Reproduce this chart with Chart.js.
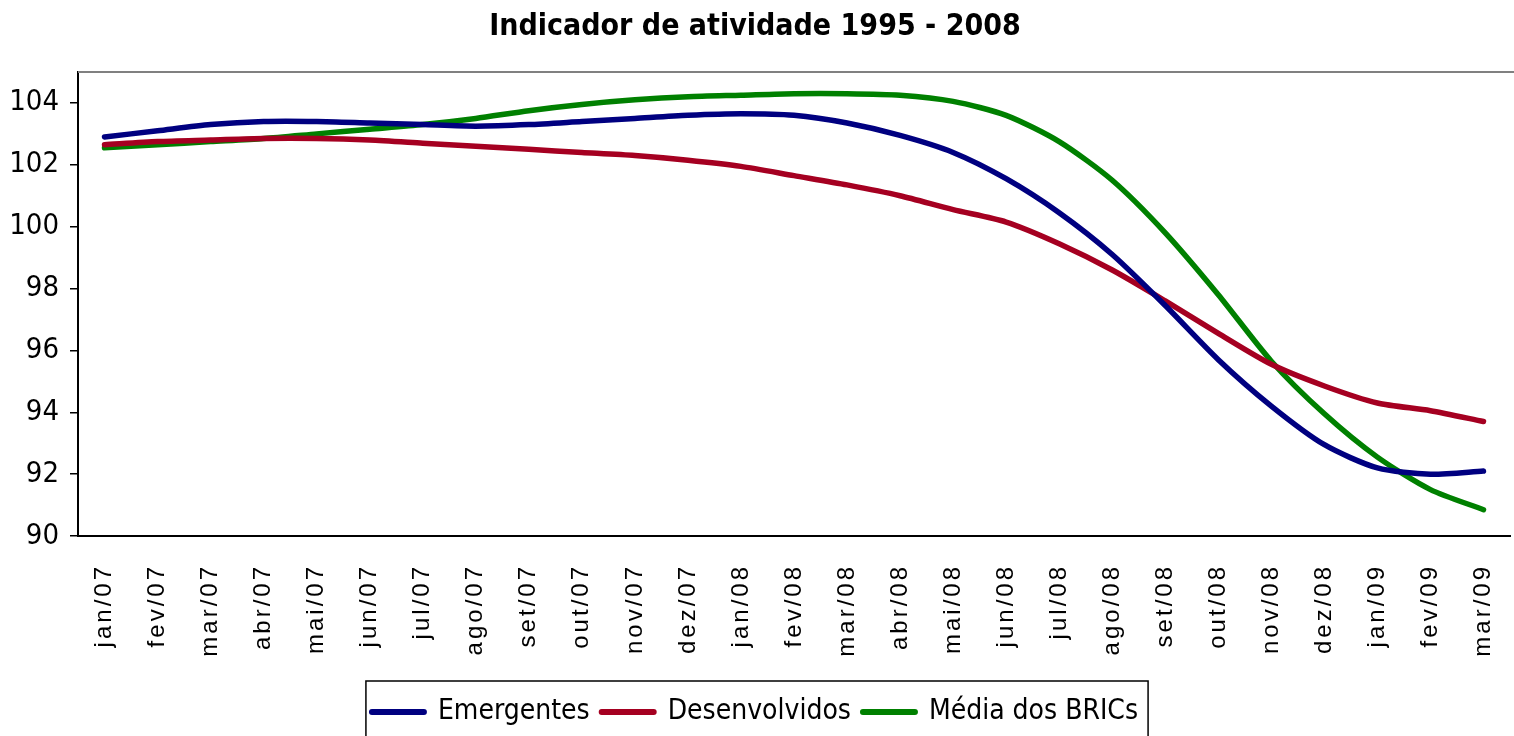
<!DOCTYPE html>
<html>
<head>
<meta charset="utf-8">
<script src="https://cdn.jsdelivr.net/npm/chart.js@4/dist/chart.umd.min.js"></script>
<style>
  html, body { margin: 0; padding: 0; background: #fff; }
  #wrap { width: 1514px; height: 736px; }
</style>
</head>
<body>
<div id="wrap"><canvas id="lineChart" width="1514" height="736"></canvas></div>
<script>
const months = [
  "jan/07", "fev/07", "mar/07", "abr/07", "mai/07", "jun/07", "jul/07", "ago/07", "set/07",
  "out/07", "nov/07", "dez/07", "jan/08", "fev/08", "mar/08", "abr/08", "mai/08", "jun/08",
  "jul/08", "ago/08", "set/08", "out/08", "nov/08", "dez/08", "jan/09", "fev/09", "mar/09"
];

const emergentes = [
  102.9, 103.1, 103.3, 103.4, 103.4, 103.35, 103.3, 103.25, 103.3,
  103.4, 103.5, 103.6, 103.65, 103.6, 103.35, 102.95, 102.4, 101.55,
  100.45, 99.1, 97.45, 95.7, 94.2, 92.95, 92.2, 92.0, 92.1
];

const desenvolvidos = [
  102.65, 102.75, 102.8, 102.85, 102.85, 102.8, 102.7, 102.6, 102.5,
  102.4, 102.3, 102.15, 101.95, 101.65, 101.35, 101.0, 100.55, 100.15,
  99.45, 98.6, 97.6, 96.55, 95.55, 94.85, 94.3, 94.05, 93.7
];

const bricsMedia = [
  102.55, 102.65, 102.75, 102.85, 103.0, 103.15, 103.3, 103.5, 103.75,
  103.95, 104.1, 104.2, 104.25, 104.3, 104.3, 104.25, 104.05, 103.6,
  102.75, 101.5, 99.8, 97.8, 95.65, 93.95, 92.55, 91.5, 90.85
];

const yMin = 90;
const yMax = 105;
const yStep = 2;

const narrow = "'Liberation Sans Narrow', 'Arial Narrow', 'DejaVu Sans Condensed', sans-serif";
const plain = "'Liberation Sans', Arial, sans-serif";

// x labels are letter spaced, legend gets a box round it, plot gets its frame
const framePlugin = {
  id: "frame",
  afterDatasetsDraw(chart) {
    chart.ctx.letterSpacing = "3px";
  },
  afterDraw(chart) {
    const ctx = chart.ctx;
    ctx.letterSpacing = "0px";
    const a = chart.chartArea;
    ctx.save();
    ctx.strokeStyle = "#808080";
    ctx.lineWidth = 2;
    ctx.beginPath();
    ctx.moveTo(a.left, a.top);
    ctx.lineTo(chart.width, a.top);
    ctx.stroke();

    const boxes = chart.legend.legendHitBoxes;
    if (boxes && boxes.length) {
      const first = boxes[0];
      const last = boxes[boxes.length - 1];
      ctx.strokeStyle = "#000";
      ctx.lineWidth = 1.5;
      ctx.strokeRect(first.left - 6, chart.legend.top - 5, last.left + last.width - first.left + 16, 80);
    }
    ctx.restore();
  }
};

const ctx = document.getElementById("lineChart").getContext("2d");
new Chart(ctx, {
  type: "line",
  data: {
    labels: months,
    datasets: [
      { label: "Emergentes", data: emergentes, borderColor: "#000080", backgroundColor: "#000080" },
      { label: "Desenvolvidos", data: desenvolvidos, borderColor: "#A50021", backgroundColor: "#A50021" },
      { label: "Média dos BRICs", data: bricsMedia, borderColor: "#008000", backgroundColor: "#008000" }
    ]
  },
  options: {
    responsive: false,
    animation: false,
    devicePixelRatio: 1,
    layout: { padding: { left: 0, right: 4, top: 0, bottom: 0 } },
    elements: {
      line: { borderWidth: 5.5, tension: 0.25, borderCapStyle: "round", fill: false },
      point: { radius: 0 }
    },
    scales: {
      x: {
        offset: true,
        grid: { display: false, drawTicks: false },
        border: { display: true, color: "#000", width: 2 },
        ticks: {
          z: 1,
          autoSkip: false,
          minRotation: 90,
          maxRotation: 90,
          padding: 28,
          color: "#000",
          font: { family: plain, size: 24 }
        },
        afterFit: scale => {
          scale.height = 150;
          scale.paddingLeft = 0;
          scale.paddingRight = 0;
        }
      },
      y: {
        min: yMin,
        max: yMax,
        grid: { drawOnChartArea: false, drawTicks: true, tickLength: 8, color: "#000", lineWidth: 1.5 },
        border: { display: true, color: "#000", width: 2 },
        ticks: {
          stepSize: yStep,
          includeBounds: false,
          padding: 11,
          color: "#000",
          font: { family: narrow, size: 29 }
        },
        afterFit: scale => { scale.width = 78; }
      }
    },
    plugins: {
      title: {
        display: true,
        text: "Indicador de atividade 1995 - 2008",
        color: "#000",
        font: { family: narrow, size: 30, weight: "bold" },
        padding: { top: 9, bottom: 27 }
      },
      legend: {
        position: "bottom",
        labels: {
          color: "#000",
          font: { family: narrow, size: 28 },
          usePointStyle: true,
          pointStyle: "line",
          pointStyleWidth: 52,
          boxHeight: 28,
          padding: 12,
          generateLabels: chart =>
            Chart.defaults.plugins.legend.labels.generateLabels(chart).map(item => {
              const ds = chart.data.datasets[item.datasetIndex];
              item.strokeStyle = ds.borderColor;
              item.lineWidth = 6;
              item.lineCap = "round";
              return item;
            })
        }
      },
      tooltip: { enabled: false }
    }
  },
  plugins: [framePlugin]
});
</script>
</body>
</html>
